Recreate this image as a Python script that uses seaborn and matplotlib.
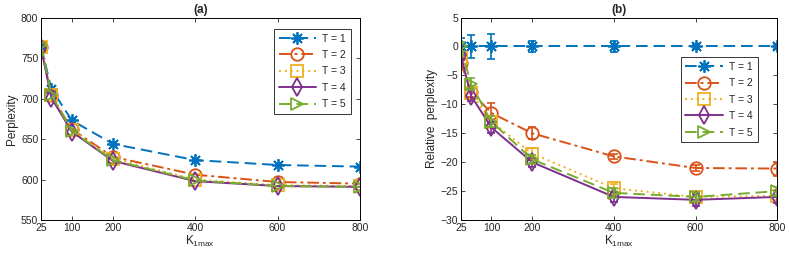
"""Perplexity vs K1max for different T, absolute and relative."""
import numpy as np
import pandas as pd
import matplotlib
matplotlib.use('Agg')
import matplotlib.pyplot as plt
import seaborn as sns

k1max = [25, 50, 100, 200, 400, 600, 800]
xticks = [25, 100, 200, 400, 600, 800]
labels = ['T = 1', 'T = 2', 'T = 3', 'T = 4', 'T = 5']

# panel (a): perplexity
perp_t1 = [765, 712, 673, 644, 624, 618, 616]
perp_t2 = [764, 704, 662, 628, 606, 597, 595]
perp_t3 = [764, 704, 661, 626, 600, 593, 592]
perp_t4 = [763, 701, 659, 623, 598, 592, 591]
perp_t5 = [766, 705, 660, 624, 599, 592, 591]

# panel (b): relative perplexity and error bar half-widths
rel_t1 = [0, 0, 0, 0, 0, 0, 0]
rel_t2 = [-2.8, -7.8, -11.5, -15.0, -19.0, -21.0, -21.1]
rel_t3 = [-2.0, -8.0, -13.0, -18.5, -24.5, -26.0, -25.8]
rel_t4 = [-1.5, -8.5, -14.0, -20.0, -26.0, -26.5, -26.0]
rel_t5 = [0.0, -6.5, -13.0, -19.5, -25.3, -26.0, -25.0]
err_t1 = [1.5, 2.0, 2.2, 1.0, 1.0, 0.5, 0.5]
err_t2 = [0.8, 1.0, 1.8, 1.0, 0.5, 0.5, 1.2]
err_t3 = [0.8, 1.0, 1.0, 1.0, 0.8, 0.8, 0.8]
err_t4 = [0.8, 1.0, 1.0, 0.8, 0.8, 1.0, 1.0]
err_t5 = [0.8, 1.0, 1.0, 0.8, 0.8, 0.8, 0.8]

colors = ['#0072BD', '#D95319', '#EDB120', '#7E2F8E', '#77AC30']
styles = [(0, (6, 3)), (0, (6, 2, 1.5, 2)), (0, (1, 2)), '-', (0, (6, 3))]
markers = [(8, 2, 0), 'o', 's', 'd', '>']

sns.set_style('ticks')
plt.rcParams['font.family'] = ['Liberation Sans', 'DejaVu Sans']
plt.rcParams['mathtext.default'] = 'regular'

fig = plt.figure(figsize=(7.89, 2.58), dpi=100)
ax1 = fig.add_axes([0.052, 0.147, 0.404, 0.785])
ax2 = fig.add_axes([0.584, 0.147, 0.401, 0.785])

perp = [perp_t1, perp_t2, perp_t3, perp_t4, perp_t5]
rel = [rel_t1, rel_t2, rel_t3, rel_t4, rel_t5]
errs = [err_t1, err_t2, err_t3, err_t4, err_t5]

for i in range(5):
    df = pd.DataFrame({'K': k1max, 'y': perp[i]})
    sns.lineplot(data=df, x='K', y='y', ax=ax1, color=colors[i], linestyle=styles[i],
                 marker=markers[i], markersize=9, markerfacecolor='none',
                 markeredgecolor=colors[i], markeredgewidth=1.3, linewidth=1.4,
                 label=labels[i])

for i in range(5):
    df = pd.DataFrame({'K': k1max, 'y': rel[i]})
    ax2.errorbar(k1max, rel[i], yerr=errs[i], fmt='none', ecolor=colors[i],
                 elinewidth=1.2, capsize=3, capthick=1.2)
    sns.lineplot(data=df, x='K', y='y', ax=ax2, color=colors[i], linestyle=styles[i],
                 marker=markers[i], markersize=9, markerfacecolor='none',
                 markeredgecolor=colors[i], markeredgewidth=1.3, linewidth=1.4,
                 label=labels[i])

legend_pos = {ax1: (0.972, 0.944), ax2: (0.938, 0.805)}
for ax, title in [(ax1, '(a)'), (ax2, '(b)')]:
    ax.set_xlim(25, 800)
    ax.set_xticks(xticks)
    ax.set_xlabel('K$_{1max}$', fontsize=8.5, labelpad=1)
    ax.set_title(title, fontsize=8.5, fontweight='bold', pad=3)
    ax.tick_params(direction='in', top=True, right=True, labelsize=7.5, length=3,
                   width=0.6, pad=2)
    for sp in ax.spines.values():
        sp.set_linewidth(0.7)
        sp.set_color('black')
    leg = ax.legend(fontsize=7.5, handlelength=3.6, frameon=True, fancybox=False,
                    edgecolor='black', borderpad=0.45, labelspacing=0.62,
                    handletextpad=0.6, loc='upper right', borderaxespad=0,
                    bbox_to_anchor=legend_pos[ax])
    leg.get_frame().set_linewidth(0.7)

ax1.set_ylim(550, 800)
ax1.set_yticks(np.arange(550, 801, 50))
ax1.set_ylabel('Perplexity', fontsize=8.5, labelpad=2)

ax2.set_ylim(-30, 5)
ax2.set_yticks(np.arange(-30, 6, 5))
ax2.set_ylabel('Relative  perplexity', fontsize=8.5, labelpad=2)

fig.savefig('out.png', dpi=100)
